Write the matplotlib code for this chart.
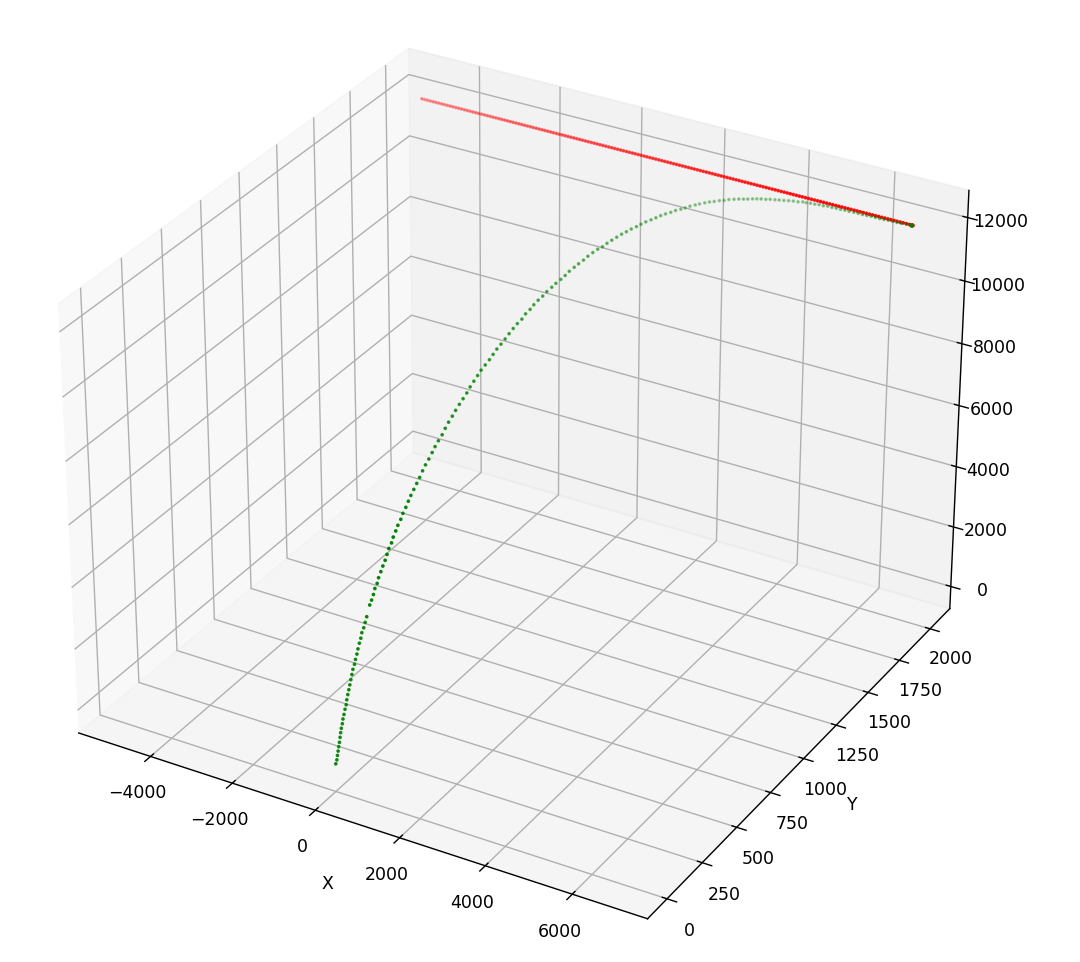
import matplotlib
matplotlib.use('Agg')
import matplotlib.pyplot as plt

# target track, flies straight along x
red_x = [-4880,-4809,-4738,-4667,-4596,-4525,-4454,-4383,-4312,-4241,
         -4170,-4099,-4028,-3957,-3886,-3815,-3744,-3673,-3602,-3531,
         -3460,-3389,-3318,-3247,-3176,-3105,-3034,-2963,-2892,-2821,
         -2750,-2679,-2608,-2537,-2466,-2395,-2324,-2253,-2182,-2111,
         -2040,-1969,-1898,-1827,-1756,-1685,-1614,-1543,-1472,-1401,
         -1330,-1259,-1188,-1117,-1046,-975,-904,-833,-762,-691,
         -620,-549,-478,-407,-336,-265,-194,-123,-52,19,
         90,161,232,303,374,445,516,587,658,729,
         800,871,942,1013,1084,1155,1226,1297,1368,1439,
         1510,1581,1652,1723,1794,1865,1936,2007,2078,2149,
         2220,2291,2362,2433,2504,2575,2646,2717,2788,2859,
         2930,3001,3072,3143,3214,3285,3356,3427,3498,3569,
         3640,3711,3782,3853,3924,3995,4066,4137,4208,4279,
         4350,4421,4492,4563,4634,4705,4776,4847,4918,4989,
         5060,5131,5202,5273,5344,5415,5486,5557,5628,5699,
         5770,5841,5912,5983,6054,6125,6196,6267,6338,6409,
         6480,6551,6622,6693,6764,6835,6906]
red_y = 2000
red_z = 12060

# interceptor track, read dot by dot off the picture
green_x = [10,0,-20,-40,-60,-40,-60,-80,-100,-110,-130,-140,-150,-120,-140,-150,-160,-170,-180,-190,
           -200,-160,-170,-170,-180,-180,-180,-190,-180,-180,-140,-100,-90,-80,-80,-60,-60,-40,10,30,
           40,50,80,50,40,20,20,0,0,-10,-20,-20,-20,-20,-20,-20,-10,0,0,10,
           30,70,80,100,110,130,150,170,180,200,220,270,300,330,350,370,400,430,490,520,
           550,590,610,650,670,740,780,810,860,890,940,1010,1040,1090,1160,1210,1280,1330,1380,1460,
           1500,1580,1630,1680,1760,1810,1900,1940,1990,2080,2130,2210,2260,2320,2400,2460,2530,2580,2640,2710,
           2800,2880,2960,3050,3130,3210,3330,3410,3490,3560,3640,3710,3810,3890,3960,4040,4110,4190,4300,4380,
           4460,4540,4620,4720,4790,4890,4990,5090,5160,5260,5360,5460,5530,5640,5740,5840,5910,6010,6110,6210,
           6280,6380,6480,6580,6650,6770,6880]
green_y = [0,10,20,30,40,40,50,60,70,80,90,100,110,110,120,130,140,150,160,170,
           180,180,190,200,210,220,230,240,250,260,260,270,280,290,300,310,320,330,330,340,
           350,360,370,390,410,430,450,470,490,510,530,550,570,590,610,630,650,670,690,710,
           730,740,760,780,800,820,840,860,880,900,920,930,950,970,990,1010,1030,1050,1060,1080,
           1100,1120,1140,1160,1180,1190,1210,1230,1250,1270,1290,1300,1320,1340,1350,1370,1380,1400,1420,1430,
           1450,1460,1480,1500,1510,1530,1540,1560,1580,1590,1610,1620,1640,1660,1670,1690,1700,1720,1740,1750,
           1760,1770,1780,1790,1800,1810,1810,1820,1830,1840,1850,1860,1860,1870,1880,1890,1900,1910,1910,1920,
           1930,1940,1940,1940,1950,1950,1950,1950,1960,1960,1960,1960,1970,1970,1970,1970,1980,1980,1980,1980,
           1990,1990,1990,1990,2000,2000,2000]
green_z = [160,240,330,420,510,660,770,870,960,1060,1160,1260,1380,1540,1650,1770,1880,1990,2110,2230,
           2350,2530,2640,2770,2890,3030,3150,3280,3400,3530,3730,4080,4200,4340,4490,4620,4760,4920,5120,5270,
           5420,5570,5720,5810,5920,6010,6120,6220,6330,6440,6540,6650,6760,6870,7000,7110,7220,7350,7460,7570,
           7690,7870,7990,8110,8220,8340,8450,8560,8680,8790,8900,9050,9150,9250,9350,9450,9540,9640,9790,9890,
           9980,10060,10160,10240,10320,10450,10520,10600,10680,10740,10810,10920,10990,11060,11160,11220,11330,11390,11440,11510,
           11560,11650,11690,11730,11800,11830,11900,11920,11940,12000,12010,12070,12070,12070,12120,12110,12140,12140,12130,12150,
           12180,12200,12210,12230,12230,12250,12300,12300,12290,12280,12280,12270,12300,12280,12270,12250,12230,12210,12240,12220,
           12190,12180,12180,12200,12160,12180,12180,12200,12150,12160,12160,12170,12120,12130,12130,12130,12090,12100,12100,12100,
           12060,12070,12070,12070,12030,12050,12060]

fig = plt.figure(figsize=(8.64, 7.696), dpi=125)
ax = fig.add_subplot(projection='3d', computed_zorder=False)
ax.set_position([0.4709 - 0.4689, 0.5049 - 0.5264, 0.9378, 1.0528])

ax.scatter(red_x, [red_y] * len(red_x), [red_z] * len(red_x), c='red', s=1.5, linewidths=0.9)
ax.scatter(green_x, green_y, green_z, c='green', s=1.5, linewidths=0.9)
# the meeting point is drawn heavier
ax.scatter(red_x[-1], red_y, red_z, c='red', s=4, linewidths=0.5)
ax.scatter(green_x[-1], green_y[-1], green_z[-1], c='green', s=4, linewidths=0.5)

ax.set_xlim(-5785, 7705, view_margin=0)
ax.set_ylim(-136, 2163, view_margin=0)
ax.set_zlim(-750, 12850, view_margin=0)
ax.set_xlabel('X')
ax.set_ylabel('Y')
fig.savefig('out.png')
